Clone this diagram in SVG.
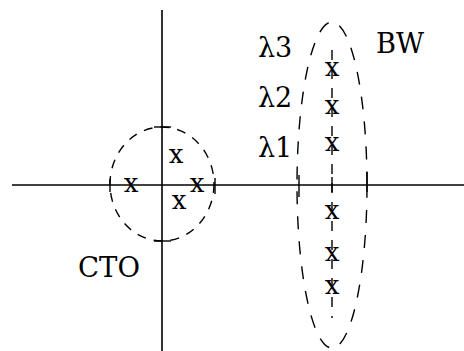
<svg xmlns="http://www.w3.org/2000/svg" width="464" height="351" viewBox="0 0 464 351">
<style>
.ax{stroke:#000;stroke-width:1.6;fill:none}
.tk{stroke:#000;stroke-width:1.4;fill:none}
.dc{stroke:#000;stroke-width:1.4;fill:none;stroke-dasharray:9 8}
.de{stroke:#000;stroke-width:1.4;fill:none;stroke-dasharray:13 12}
.dv{stroke:#000;stroke-width:1.4;fill:none;stroke-dasharray:10 9}
.lb{font-size:27px;fill:#000}
.xm{font-size:26px;text-anchor:middle;fill:#000}
</style>
<rect width="464" height="351" fill="#fff"/>
<g id="axes">
<line class="ax" x1="12" y1="185" x2="464" y2="185"/>
<line class="ax" x1="162" y1="10" x2="162" y2="351"/>
</g>
<g id="cto" font-family="DejaVu Serif, serif">
<ellipse class="dc" cx="162" cy="184" rx="52" ry="57"/>
<line class="tk" x1="110" y1="179" x2="110" y2="192"/>
<line class="tk" x1="215" y1="178" x2="215" y2="194"/>
<line class="tk" x1="154" y1="127" x2="171" y2="127"/>
<line class="tk" x1="154" y1="241" x2="171" y2="241"/>
<text class="xm" x="131" y="192">x</text>
<text class="xm" x="197" y="192">x</text>
<text class="xm" x="176" y="163">x</text>
<text class="xm" x="179" y="209">x</text>
<text class="lb" x="78" y="277" textLength="62" lengthAdjust="spacingAndGlyphs">CTO</text>
</g>
<g id="bw" font-family="DejaVu Serif, serif">
<ellipse class="de" cx="332" cy="185" rx="35" ry="163"/>
<line class="dv" x1="332" y1="50" x2="332" y2="318"/>
<line class="tk" x1="299" y1="175" x2="299" y2="197"/>
<line class="tk" x1="332" y1="177" x2="332" y2="192"/>
<line class="tk" x1="367" y1="172" x2="367" y2="192"/>
<text class="xm" x="332" y="76">x</text>
<text class="xm" x="332" y="114">x</text>
<text class="xm" x="332" y="151">x</text>
<text class="xm" x="332" y="219">x</text>
<text class="xm" x="332" y="261">x</text>
<text class="xm" x="332" y="294">x</text>
<text class="lb" x="376" y="53" textLength="48" lengthAdjust="spacingAndGlyphs">BW</text>
<text class="lb" x="258" y="57">λ3</text>
<text class="lb" x="258" y="107">λ2</text>
<text class="lb" x="258" y="157">λ1</text>
</g>
</svg>
